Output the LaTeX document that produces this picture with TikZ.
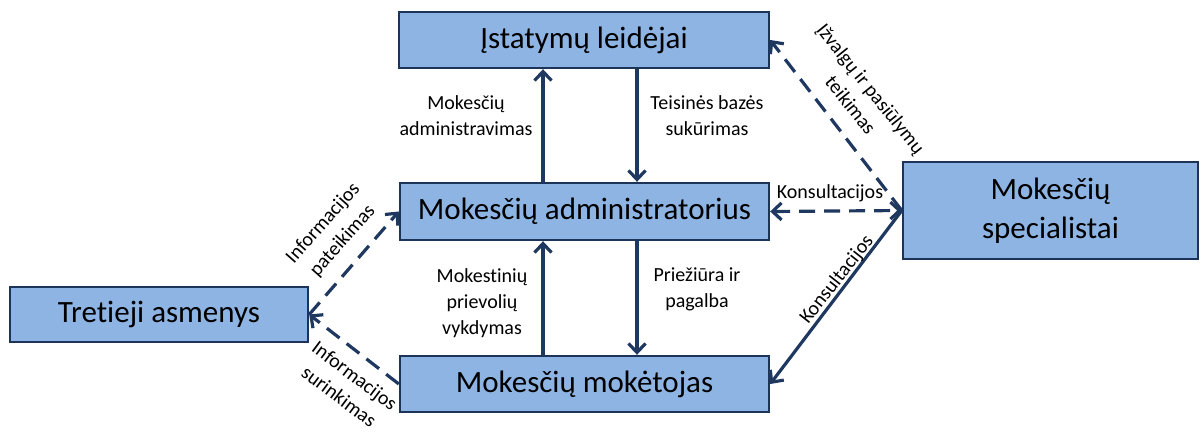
\documentclass[tikz,border=0pt]{standalone}
\usepackage{fontspec}
\setmainfont{Carlito}[Ligatures=NoCommon]
\usetikzlibrary{arrows.meta}
\definecolor{boxfill}{RGB}{142,180,227}
\definecolor{boxline}{RGB}{28,52,88}
\definecolor{arrowcol}{RGB}{31,56,96}
\begin{document}
\begin{tikzpicture}[x=1pt,y=-1pt,
  actor/.style={draw=boxline, line width=2.4pt, fill=boxfill, rectangle,
    inner sep=0pt, align=center, text=black,
    font=\fontsize{31}{39}\selectfont},
  lbl/.style={inner sep=0pt, align=center, text=black,
    font=\fontsize{20}{26}\selectfont},
  flow/.style={draw=arrowcol, line width=3.2pt,
    -{Straight Barb[length=9pt,width=17pt]}},
  dflow/.style={flow, dash pattern=on 16pt off 9pt},
  ddflow/.style={dflow, {Straight Barb[length=9pt,width=17pt]}-{Straight Barb[length=9pt,width=17pt]}}
]
\useasboundingbox (0,0) rectangle (1200,434);

% actors
\node[actor, minimum width=370pt, minimum height=56pt] (leg) at (584,40) {Įstatymų leidėjai};
\node[actor, minimum width=369pt, minimum height=57pt] (adm) at (584.5,211.5) {Mokesčių administratorius};
\node[actor, minimum width=369pt, minimum height=56pt] (pay) at (584.5,384) {Mokesčių mokėtojas};
\node[actor, minimum width=298pt, minimum height=55pt] (third) at (159,314.5) {Tretieji asmenys};
\node[actor, minimum width=295pt, minimum height=97pt] (spec) at (1050.5,210.5) {Mokesčių\\specialistai};

% columns of the vertical flows
\coordinate (colL) at (543,0);
\coordinate (colR) at (637,0);

% vertical flows
\draw[flow] (adm.north -| colL) -- (leg.south -| colL);
\draw[flow] (leg.south -| colR) -- (adm.north -| colR);
\draw[flow] (pay.north -| colL) -- (adm.south -| colL);
\draw[flow] (adm.south -| colR) -- (pay.north -| colR);

% third parties
\draw[dflow] (third.east) -- (adm.west);
\draw[dflow] (pay.west) -- (third.east);

% tax specialists
\draw[dflow] (spec.west) -- (leg.east);
\draw[ddflow] (adm.east) -- (spec.west);
\draw[flow] (spec.west) -- (pay.east);

% labels
\node[lbl] (l1) at (466,116) {Mokesčių\\administravimas};
\node[lbl] (l2) at (707,116) {Teisinės bazės\\sukūrimas};
\node[lbl] (l3) at (482,303) {Mokestinių\\prievolių\\vykdymas};
\node[lbl] (l4) at (697,289) {Priežiūra ir\\pagalba};
\node[lbl] (l5) at (830,193) {Konsultacijos};
\node[lbl, rotate=51.8] (l6) at (837,280) {Konsultacijos};
\node[lbl, rotate=48.5] (l7) at (333,232) {Informacijos\\pateikimas};
\node[lbl, rotate=-36.8] (l8) at (347,386) {Informacijos\\surinkimas};
\node[lbl, rotate=-51.3] (l9) at (861,97) {Įžvalgų ir pasiūlymų\\teikimas};
\end{tikzpicture}
\end{document}
